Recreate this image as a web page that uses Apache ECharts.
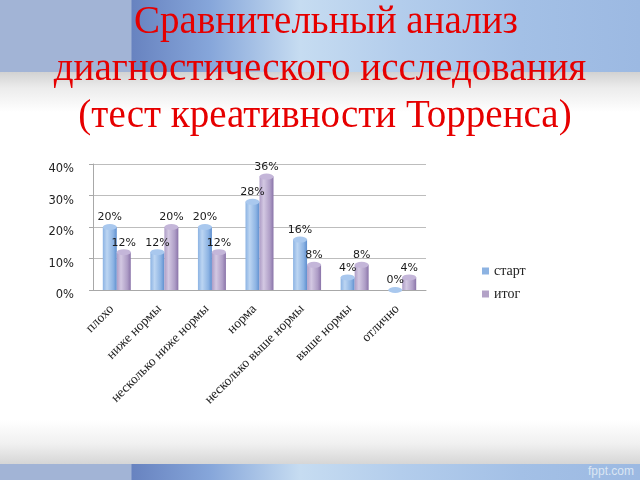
<!DOCTYPE html>
<html>
<head>
<meta charset="utf-8">
<script src="https://cdn.jsdelivr.net/npm/echarts@6/dist/echarts.min.js"></script>
<style>
  html, body { margin:0; padding:0; width:640px; height:480px; overflow:hidden; background:#fff; }
  .band { position:absolute; left:0; width:640px;
    background: linear-gradient(to right, #a2b4d6 0px, #a2b4d6 131px, #6883c0 132px, #86a6da 210px, #c6dcf1 300px, #b3cdec 400px, #a3c0e6 520px, #9cb9e2 640px); }
  #topband { top:0; height:72px; }
  #topshade { position:absolute; left:0; top:72px; width:640px; height:40px;
    background: linear-gradient(to bottom, #d2d2d2 0%, #ececec 40%, #ffffff 100%); }
  #botshade { position:absolute; left:0; top:420px; width:640px; height:44px;
    background: linear-gradient(to bottom, #ffffff 0%, #f0f0f0 55%, #d6d6d6 100%); }
  #botband { top:464px; height:16px; }
  #wm { position:absolute; right:6px; top:464px; font-family:"Liberation Sans", sans-serif; font-size:12px; color:#dbe6f3; }
  #chart { position:absolute; left:0; top:0; width:640px; height:480px; }
</style>
</head>
<body>
<div id="topband" class="band"></div>
<div id="topshade"></div>
<div id="botshade"></div>
<div id="botband" class="band"></div>
<div id="wm">fppt.com</div>
<div id="chart"></div>
<script>
const titleLines = ['Сравнительный анализ', 'диагностического исследования', '(тест креативности Торренса)'];
const categories = ['плохо', 'ниже нормы', 'несколько ниже нормы', 'норма', 'несколько выше нормы', 'выше нормы', 'отлично'];
const seriesNames = ['старт', 'итог'];
const startValues = [20, 12, 20, 28, 16, 4, 0];
const finalValues = [12, 20, 12, 36, 8, 8, 4];
const yTicks = [0, 10, 20, 30, 40];

const chart = echarts.init(document.getElementById('chart'), null, { renderer: 'canvas' });

function cyl(dark, mid, light) {
  return new echarts.graphic.LinearGradient(0, 0, 1, 0, [
    { offset: 0, color: mid },
    { offset: 0.3, color: light },
    { offset: 0.75, color: mid },
    { offset: 1, color: dark }
  ]);
}

const blueFill = cyl('#5f8fcf', '#8cb3e3', '#bcd5f2');
const purpleFill = cyl('#8a74a9', '#ae9dc6', '#d3c8e2');

const labelCommon = {
  show: true, position: 'top', distance: 4,
  formatter: p => p.value + '%',
  fontFamily: 'DejaVu Sans', fontSize: 11, color: '#1a1a1a'
};

const titleShift = [6, 0, 5];

chart.setOption({
  animation: false,
  backgroundColor: 'transparent',
  graphic: titleLines.map((t, i) => ({
    type: 'text', x: 320 + titleShift[i], y: 3 + i * 47,
    style: { text: t, font: '39px "Liberation Serif"', fill: '#e60000', align: 'center', verticalAlign: 'top' }
  })),
  legend: {
    orient: 'vertical', left: 477, top: 259, itemWidth: 7, itemHeight: 7, itemGap: 9,
    icon: 'rect',
    data: [
      { name: seriesNames[0], itemStyle: { color: '#8db3e2' } },
      { name: seriesNames[1], itemStyle: { color: '#b3a2c7' } }
    ],
    textStyle: { fontFamily: 'Liberation Serif', fontSize: 14, lineHeight: 14, color: '#222' }
  },
  grid: { left: 93, right: 214, top: 164, bottom: 190, containLabel: false },
  xAxis: {
    type: 'category', data: categories,
    axisLine: { lineStyle: { color: '#a8a8a8' } },
    axisTick: { lineStyle: { color: '#a8a8a8' }, length: 4 },
    axisLabel: { rotate: 45, interval: 0, margin: 12, padding: [0, 7, 0, 0], fontFamily: 'Liberation Serif', fontSize: 13.5, color: '#222' }
  },
  yAxis: {
    type: 'value', min: 0, max: 40, interval: 10,
    axisLine: { show: true, lineStyle: { color: '#a8a8a8' } },
    axisTick: { show: true, lineStyle: { color: '#a8a8a8' }, length: 4 },
    splitLine: { lineStyle: { color: '#bdbdbd' } },
    axisLabel: { formatter: '{value}%', fontFamily: 'DejaVu Sans', fontSize: 11.5, color: '#222', margin: 19, verticalAlign: 'top', lineHeight: 11 }
  },
  series: [
    { name: seriesNames[0], type: 'bar', data: startValues, barWidth: 14, barGap: '0%',
      itemStyle: { color: blueFill }, label: labelCommon },
    { name: seriesNames[1], type: 'bar', data: finalValues, barWidth: 14, barGap: '0%',
      itemStyle: { color: purpleFill }, label: labelCommon },
    { type: 'pictorialBar', data: startValues, barWidth: 14, barGap: '0%', symbol: 'circle',
      symbolSize: [14, 6], symbolPosition: 'end', symbolOffset: [0, '-50%'], z: 3,
      itemStyle: { color: '#a9c8ee' }, silent: true },
    { type: 'pictorialBar', data: finalValues, barWidth: 14, barGap: '0%', symbol: 'circle',
      symbolSize: [14, 6], symbolPosition: 'end', symbolOffset: [0, '-50%'], z: 3,
      itemStyle: { color: '#c4b6d9' }, silent: true }
  ]
});
</script>
</body>
</html>
